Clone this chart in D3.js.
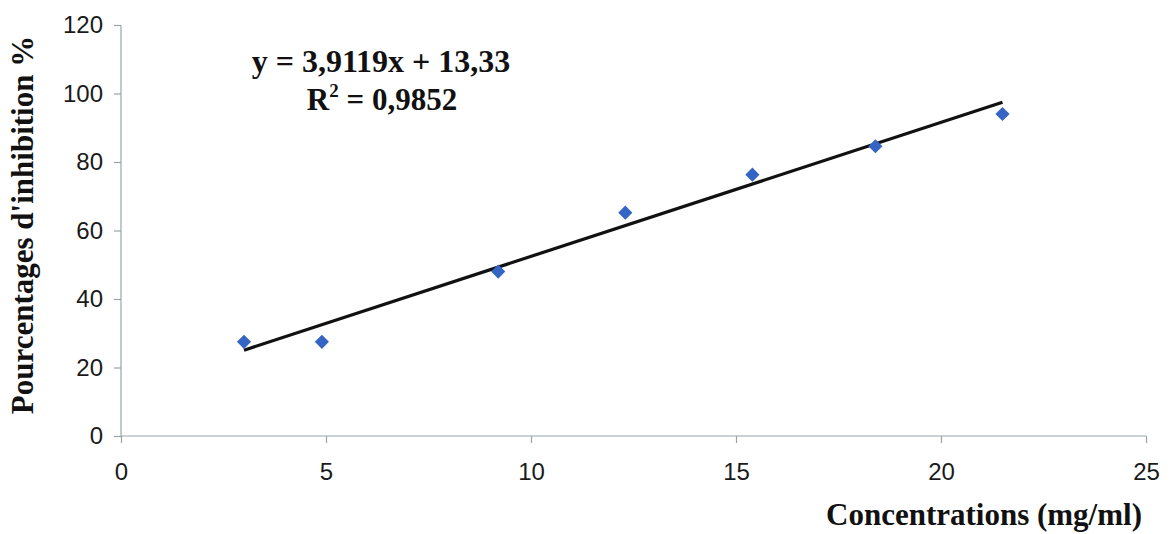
<!DOCTYPE html>
<html><head><meta charset="utf-8">
<script src="https://cdn.jsdelivr.net/npm/d3@7"></script>
<style>body{margin:0;background:#fff}svg{display:block}</style>
</head><body>
<svg id="c" width="1172" height="534"></svg>
<script>
const concentrations = [3.0, 4.9, 9.2, 12.3, 15.4, 18.4, 21.5];
const inhibition = [27.5, 27.5, 48.0, 65.2, 76.3, 84.6, 94.0];
const slope = 3.9119, intercept = 13.33;
const xTicks = [0, 5, 10, 15, 20, 25];
const yTicks = [0, 20, 40, 60, 80, 100, 120];
const eqText = "y = 3,9119x + 13,33";
const r2Value = "0,9852";
const xTitle = "Concentrations (mg/ml)";
const yTitle = "Pourcentages d'inhibition %";

const svg = d3.select("#c");
const x = d3.scaleLinear().domain([0, 25]).range([121, 1146]);
const y = d3.scaleLinear().domain([0, 120]).range([436, 25]);

const xAxis = svg.append("g").attr("transform", `translate(0,${y(0)})`)
  .call(d3.axisBottom(x).tickValues(xTicks).tickSize(7).tickPadding(20).tickFormat(d3.format("d")));
const yAxis = svg.append("g").attr("transform", `translate(${x(0)},0)`)
  .call(d3.axisLeft(y).tickValues(yTicks).tickSize(7).tickPadding(11).tickFormat(d3.format("d")));
[xAxis, yAxis].forEach(a => {
  a.select(".domain").attr("stroke", "#9aa3a8").attr("stroke-width", 1.2);
  a.selectAll(".tick line").attr("stroke", "#9aa3a8").attr("stroke-width", 1.2);
  a.selectAll(".tick text").attr("font-family", "Liberation Sans, Arial, sans-serif")
    .attr("font-size", 24).attr("fill", "#1a1a1a");
});
xAxis.select(".domain").attr("d", `M${x(0)},0H${x(25)}`);
yAxis.select(".domain").attr("d", `M0,${y(120)}V${y(0)}`);

// trend line
const x0 = d3.min(concentrations), x1 = d3.max(concentrations);
svg.append("line")
  .attr("x1", x(x0)).attr("y1", y(slope * x0 + intercept))
  .attr("x2", x(x1)).attr("y2", y(slope * x1 + intercept))
  .attr("stroke", "#111").attr("stroke-width", 3.2);

// markers
const diamond = d3.symbol().type(d3.symbolSquare).size(100);
svg.selectAll("path.pt").data(concentrations).join("path")
  .attr("class", "pt")
  .attr("d", diamond)
  .attr("transform", (d, i) => `translate(${x(d)},${y(inhibition[i])}) rotate(45)`)
  .attr("fill", "#3565c4");

// equation
const serif = "Liberation Serif, Times New Roman, serif";
svg.append("text").attr("x", 381).attr("y", 72).attr("text-anchor", "middle")
  .attr("font-family", serif).attr("font-weight", "bold").attr("font-size", 32).attr("fill", "#111")
  .text(eqText);
const r2 = svg.append("text").attr("x", 382).attr("y", 110).attr("text-anchor", "middle")
  .attr("font-family", serif).attr("font-weight", "bold").attr("font-size", 31).attr("fill", "#111");
r2.append("tspan").text("R");
r2.append("tspan").attr("dy", -13).attr("font-size", 19).text("2");
r2.append("tspan").attr("dy", 13).text(" = " + r2Value);

// axis titles
svg.append("text").attr("x", 1142).attr("y", 525).attr("text-anchor", "end")
  .attr("font-family", serif).attr("font-weight", "bold").attr("font-size", 31).attr("fill", "#111")
  .text(xTitle);
svg.append("text").attr("transform", "translate(33,225) rotate(-90)").attr("text-anchor", "middle")
  .attr("font-family", serif).attr("font-weight", "bold").attr("font-size", 31).attr("fill", "#111")
  .text(yTitle);
</script>
</body></html>
